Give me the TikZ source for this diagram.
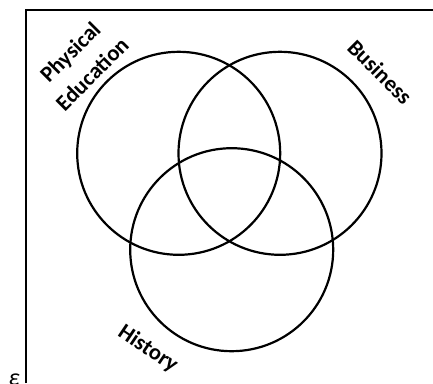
\documentclass[tikz,border=0pt]{standalone}
\usepackage{fontspec}
\setmainfont{Carlito}
\begin{document}
\begin{tikzpicture}[x=1pt,y=-1pt,
  setc/.style={draw=black,line width=2.2pt},
  lbl/.style={font=\bfseries\fontsize{22.5}{31}\selectfont,inner sep=0pt,align=center}]
\useasboundingbox (0,0) rectangle (433,383);
\draw[line width=2.6pt] (26,383) -- (26,10) -- (433,10);
\node[setc,circle,minimum size=203pt,inner sep=0pt] (pe) at (178.7,153.3) {};
\node[setc,circle,minimum size=203pt,inner sep=0pt] (bu) at (280,153.3) {};
\node[setc,circle,minimum size=203pt,inner sep=0pt] (hi) at (231.7,249.7) {};
\node[lbl,rotate=45] (tpe) at (81,63) {Physical\\Education};
\node[lbl,rotate=-45] (tbu) at (380,72) {Business};
\node[lbl,rotate=-34] (thi) at (148,349) {History};
\node[font=\itshape\fontsize{24}{26}\selectfont,inner sep=0pt] (eps) at (14,380) {ε};
\end{tikzpicture}
\end{document}
